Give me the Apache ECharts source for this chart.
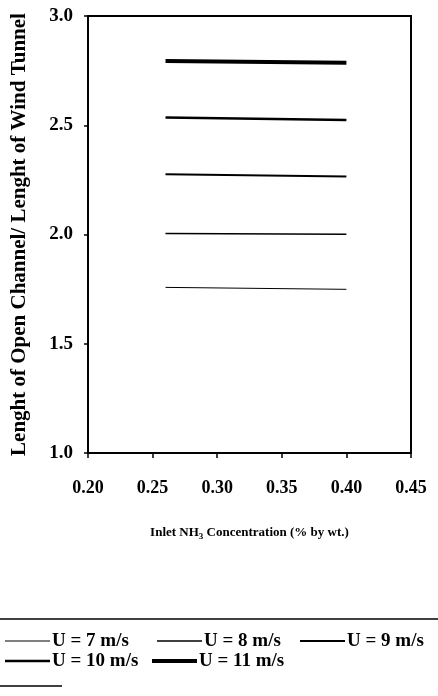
<!DOCTYPE html>
<html>
<head>
<meta charset="utf-8">
<script src="https://cdn.jsdelivr.net/npm/echarts@6/dist/echarts.min.js"></script>
<style>
  html, body { margin: 0; padding: 0; background: #fff; }
  #chart { width: 438px; height: 696px; }
</style>
</head>
<body>
<div id="chart"></div>
<script>
// Inlet ammonia concentration range covered by each velocity line
const concentration = [0.26, 0.40];

// Length ratio (open channel / wind tunnel) at the two ends of the range
const seriesNames = ['U = 7 m/s', 'U = 8 m/s', 'U = 9 m/s', 'U = 10 m/s', 'U = 11 m/s'];
const u7  = [1.758, 1.749];
const u8  = [2.005, 2.001];
const u9  = [2.276, 2.265];
const u10 = [2.535, 2.524];
const u11 = [2.794, 2.786];
const seriesValues = [u7, u8, u9, u10, u11];

// Axis ranges and tick steps
const xTicks = [0.20, 0.25, 0.30, 0.35, 0.40, 0.45];
const yTicks = [1.0, 1.5, 2.0, 2.5, 3.0];

const lineWidths = [1, 1.5, 2, 2.5, 4];
const FONT = '"Liberation Serif", "Times New Roman", serif';

const chart = echarts.init(document.getElementById('chart'), null, { renderer: 'canvas' });

const series = seriesNames.map((name, i) => ({
  name: name,
  type: 'line',
  symbol: 'none',
  silent: true,
  data: concentration.map((x, j) => [x, seriesValues[i][j]]),
  lineStyle: { color: '#000', width: lineWidths[i] },
  itemStyle: { color: '#000' }
}));

// One legend per entry so each sample line keeps its own thickness
const legendSpots = [
  { left: 5,   top: 631 },
  { left: 157, top: 631 },
  { left: 300, top: 631 },
  { left: 5,   top: 651 },
  { left: 152, top: 651 }
];
const legends = seriesNames.map((name, i) => ({
  data: [{ name: name, icon: 'rect', itemStyle: { color: '#000' } }],
  left: legendSpots[i].left,
  top: legendSpots[i].top,
  padding: 0,
  itemWidth: 45,
  itemHeight: lineWidths[i],
  itemGap: 0,
  selectedMode: false,
  textStyle: {
    fontFamily: FONT, fontSize: 19, fontWeight: 'bold', color: '#000',
    lineHeight: 20, padding: [0, 0, 0, -3]
  }
}));

const option = {
  animation: false,
  backgroundColor: '#fff',
  grid: {
    left: 88, top: 16, width: 323, height: 437,
    outerBoundsMode: 'none',
    containLabel: false,
    show: true, borderColor: '#000', borderWidth: 2, backgroundColor: 'transparent'
  },
  xAxis: {
    type: 'value',
    min: xTicks[0], max: xTicks[xTicks.length - 1], interval: 0.05,
    name: '{t|Inlet NH}{s|3}{t| Concentration (% by wt.)}',
    nameLocation: 'middle', nameGap: 71,
    nameTextStyle: {
      rich: {
        t: { fontFamily: FONT, fontSize: 13, fontWeight: 'bold', color: '#000' },
        s: { fontFamily: FONT, fontSize: 9, fontWeight: 'bold', color: '#000', padding: [8, 0, 0, 0] }
      }
    },
    axisLine: { show: true, lineStyle: { color: '#000', width: 2 } },
    axisTick: { show: true, length: 5, lineStyle: { color: '#000', width: 1.5 } },
    splitLine: { show: false },
    axisLabel: {
      margin: 26, fontFamily: FONT, fontSize: 18, fontWeight: 'bold', color: '#000',
      formatter: v => v.toFixed(2)
    }
  },
  yAxis: {
    type: 'value',
    min: yTicks[0], max: yTicks[yTicks.length - 1], interval: 0.5,
    name: 'Lenght of Open Channel/ Lenght of Wind Tunnel',
    nameLocation: 'middle', nameGap: 58, nameRotate: 90,
    nameTextStyle: { fontFamily: FONT, fontSize: 21, fontWeight: 'bold', color: '#000' },
    axisLine: { show: true, lineStyle: { color: '#000', width: 2 } },
    axisTick: { show: true, length: 4, lineStyle: { color: '#000', width: 1.5 } },
    splitLine: { show: false },
    axisLabel: {
      margin: 15, fontFamily: FONT, fontSize: 19, fontWeight: 'bold', color: '#000',
      formatter: v => v.toFixed(1)
    }
  },
  legend: legends,
  graphic: [
    { type: 'line', shape: { x1: 0, y1: 619, x2: 438, y2: 619 }, style: { stroke: '#000', lineWidth: 1.5 } },
    { type: 'line', shape: { x1: 0, y1: 686, x2: 62, y2: 686 }, style: { stroke: '#000', lineWidth: 1.5 } }
  ],
  series: series
};

chart.setOption(option);
</script>
</body>
</html>
